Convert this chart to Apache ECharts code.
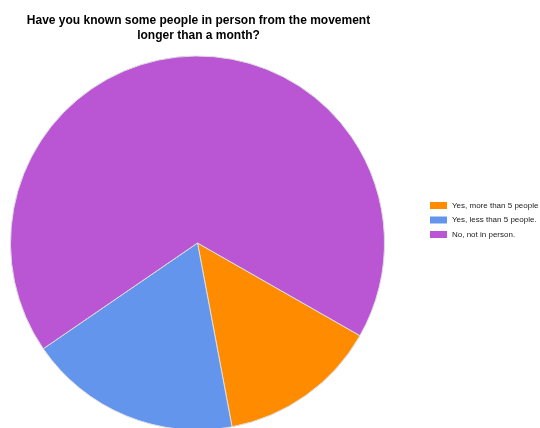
<!DOCTYPE html>
<html>
<head>
<meta charset="utf-8">
<script src="https://cdn.jsdelivr.net/npm/echarts@6/dist/echarts.min.js"></script>
<style>html,body{margin:0;padding:0;background:#fff}#c{width:540px;height:428px}</style>
</head>
<body>
<div id="c"></div>
<script>
const categories = ['Yes, more than 5 people', 'Yes, less than 5 people.', 'No, not in person.'];
const values = [12, 16, 59];
const colors = ['#FF8C00', '#6495ED', '#BA55D3'];
const titleLines = ['Have you known some people in person from the movement', 'longer than a month?'];

const chart = echarts.init(document.getElementById('c'));
chart.setOption({
  animation: false,
  color: colors,
  graphic: [{
    type: 'text', x: 198.5, y: 13,
    style: { text: titleLines.join('\n'), align: 'center', verticalAlign: 'top', font: 'bold 12px "Liberation Sans", Arial, sans-serif', lineHeight: 15, fill: '#000' }
  }],
  legend: {
    orient: 'vertical', left: 430, top: 200, padding: 0,
    itemWidth: 17, itemHeight: 7, itemGap: 3.5,
    icon: 'rect',
    itemStyle: { borderWidth: 0 },
    textStyle: { fontSize: 8, lineHeight: 11, fontFamily: '"Liberation Sans", Arial, sans-serif', color: '#222' },
    data: categories
  },
  series: [{
    type: 'pie',
    center: [197.5, 243],
    radius: 187,
    startAngle: -29.7,
    clockwise: true,
    label: { show: false },
    labelLine: { show: false },
    emphasis: { disabled: true },
    itemStyle: { borderColor: '#dddddd', borderWidth: 1 },
    data: categories.map((n, i) => ({ name: n, value: values[i] }))
  }]
});
</script>
</body>
</html>
